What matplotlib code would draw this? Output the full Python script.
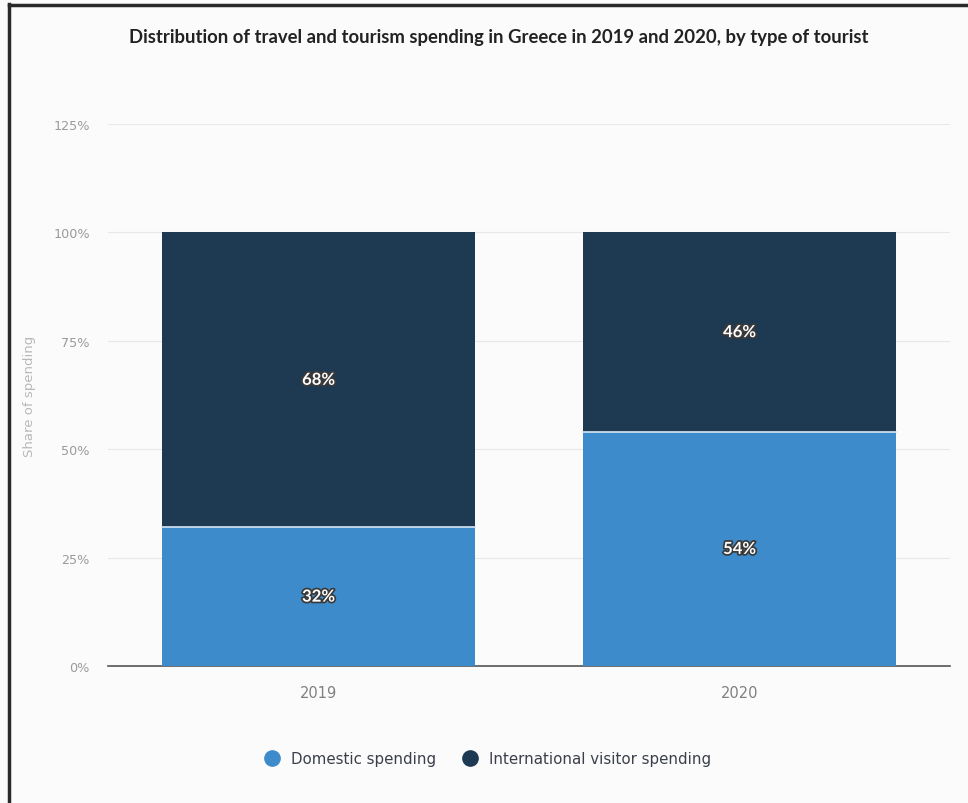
import matplotlib
matplotlib.use("Agg")
import matplotlib.pyplot as plt
import matplotlib.patheffects as pe
from matplotlib.lines import Line2D

years = ["2019", "2020"]
domestic = [32, 54]
international = [68, 46]
yticks = [0, 25, 50, 75, 100, 125]
title = "Distribution of travel and tourism spending in Greece in 2019 and 2020, by type of tourist"
series_names = ["Domestic spending", "International visitor spending"]

c_dom = "#3d8bca"
c_int = "#1e3a52"
bg = "#fbfbfb"

fig = plt.figure(figsize=(9.68, 8.04), dpi=100, facecolor=bg)

# outer frame lines (left and top)
fig.add_artist(Line2D([9 / 968, 9 / 968], [0, 1 - 5 / 804], color="#2a2a2a", lw=2.5,
                      transform=fig.transFigure))
fig.add_artist(Line2D([9 / 968, 1], [1 - 6 / 804, 1 - 6 / 804], color="#2a2a2a", lw=2.5,
                      transform=fig.transFigure))

ax = fig.add_axes([108 / 968, (804 - 667) / 804, (950 - 108) / 968, (667 - 125) / 804])
ax.set_facecolor(bg)

x = list(range(len(years)))
w = 0.744
ax.bar(x, domestic, width=w, color=c_dom, zorder=3)
ax.bar(x, international, width=w, bottom=domestic, color=c_int, zorder=3)
# thin light separator between segments
for xi, d in zip(x, domestic):
    ax.plot([xi - w / 2, xi + w / 2], [d, d], color="#d8e6f2", lw=1.2, zorder=4)

effects = [pe.withStroke(linewidth=2.5, foreground="#3a3a3a")]
for xi, d, i in zip(x, domestic, international):
    ax.text(xi, d / 2, f"{d}%", ha="center", va="center", color="white",
            fontsize=12, fontweight="bold", family="Lato",
            path_effects=effects, zorder=5)
    ax.text(xi, d + i / 2, f"{i}%", ha="center", va="center", color="white",
            fontsize=12, fontweight="bold", family="Lato",
            path_effects=effects, zorder=5)

ax.set_xlim(-0.5, 1.5)
ax.set_ylim(0, 125)
ax.set_yticks(yticks)
ax.set_yticklabels([f"{t}%" for t in yticks])
ax.set_xticks(x)
ax.set_xticklabels(years)
ax.grid(axis="y", color="#e8e8e8", lw=0.8, zorder=0)
for s in ["top", "right", "left"]:
    ax.spines[s].set_visible(False)
ax.spines["bottom"].set_color("#555555")
ax.spines["bottom"].set_linewidth(1.2)
ax.tick_params(axis="y", length=0, pad=13, labelsize=9.2, labelcolor="#9a9a9a")
ax.tick_params(axis="x", length=0, pad=14, labelsize=10.5, labelcolor="#808080")
ax.set_ylabel("Share of spending", color="#b8b8b8", fontsize=9.5)
ax.yaxis.set_label_coords(-(108 - 36) / 842, 0.5)

fig.text(499 / 968, 1 - 37 / 804, title, ha="center", va="center", fontsize=13.3,
         fontweight="bold", color="#222222", family="Lato")

handles = [Line2D([], [], marker="o", ls="", ms=11, color=c_dom),
           Line2D([], [], marker="o", ls="", ms=11, color=c_int)]
fig.legend(handles, series_names, loc="center", bbox_to_anchor=(484 / 968, 1 - 760 / 804),
           ncol=2, frameon=False, fontsize=10.8, labelcolor="#3a3f4a",
           handletextpad=0.3, columnspacing=1.2)

fig.savefig("out.png", dpi=100, facecolor=bg)
